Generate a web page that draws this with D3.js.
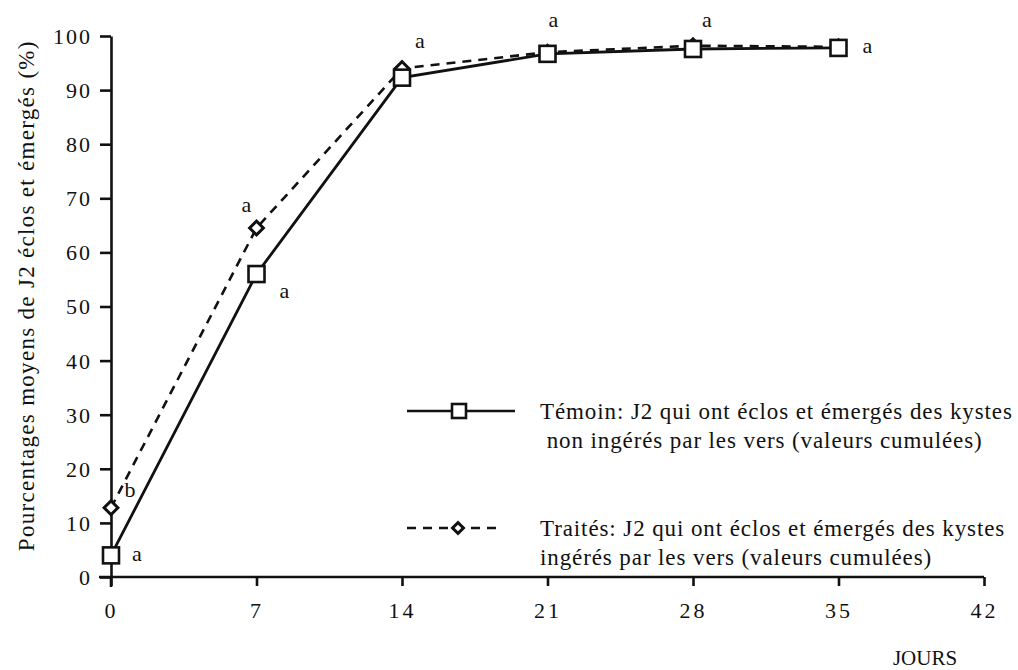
<!DOCTYPE html>
<html>
<head>
<meta charset="utf-8">
<script src="https://cdn.jsdelivr.net/npm/d3@7"></script>
</head>
<body style="margin:0">
<svg id="chart" width="1018" height="670"></svg>
<script>
// data
const days = [0, 7, 14, 21, 28, 35];
const temoin = [4, 56, 92.3, 96.7, 97.6, 97.8];
const traites = [12.8, 64.5, 94, 97, 98.2, 98];
const temoinLetters = ["a", "a", "", "a", "", "a"];
const traitesLetters = ["b", "a", "a", "", "a", ""];
const xTicks = [0, 7, 14, 21, 28, 35, 42];
const yTicks = [0, 10, 20, 30, 40, 50, 60, 70, 80, 90, 100];
const legendLabels = [
  ["Témoin: J2 qui ont éclos et émergés des kystes", " non ingérés par les vers (valeurs cumulées)"],
  ["Traités: J2 qui ont éclos et émergés des kystes", "ingérés par les vers (valeurs cumulées)"]
];

const FONT = "Liberation Serif";
const ink = "#111";

const svg = d3.select("#chart");
const x = d3.scaleLinear().domain([0, 42]).range([111, 984]);
const y = d3.scaleLinear().domain([0, 100]).range([577, 36]);

// axes
const yAxis = svg.append("g")
  .attr("transform", `translate(${x(0)},0)`)
  .call(d3.axisLeft(y).tickValues(yTicks).tickSize(11).tickPadding(8).tickSizeOuter(0));
yAxis.select(".domain").attr("stroke", ink).attr("stroke-width", 2.6);
yAxis.selectAll(".tick line").attr("stroke", ink).attr("stroke-width", 2.6);
yAxis.selectAll(".tick text").attr("font-family", FONT).attr("font-size", 22)
  .attr("fill", ink).attr("dy", "0.34em").attr("letter-spacing", 2);
// y axis runs a bit below 0
svg.append("line").attr("x1", x(0)).attr("x2", x(0)).attr("y1", y(0)).attr("y2", y(0) + 10)
  .attr("stroke", ink).attr("stroke-width", 2.6);

const xAxis = svg.append("g")
  .attr("transform", `translate(0,${y(0)})`)
  .call(d3.axisBottom(x).tickValues(xTicks).tickSize(9).tickPadding(16).tickSizeOuter(0));
xAxis.select(".domain").attr("stroke", ink).attr("stroke-width", 2.6)
  .attr("d", `M${x(0) - 12},0H${x(42)}`);
xAxis.selectAll(".tick line").attr("stroke", ink).attr("stroke-width", 2.6);
xAxis.selectAll(".tick text").attr("font-family", FONT).attr("font-size", 22)
  .attr("fill", ink).attr("letter-spacing", 3);

svg.append("text")
  .attr("transform", `translate(34,${y(52)}) rotate(-90)`)
  .attr("text-anchor", "middle")
  .attr("font-family", FONT).attr("font-size", 23).attr("letter-spacing", 1.3).attr("fill", ink)
  .text("Pourcentages moyens de J2 éclos et émergés (%)");

svg.append("text")
  .attr("x", 925).attr("y", 665)
  .attr("text-anchor", "middle")
  .attr("font-family", FONT).attr("font-size", 21).attr("fill", ink)
  .text("JOURS");

// lines
const line = d3.line().x((d, i) => x(days[i])).y(d => y(d));

svg.append("path").datum(traites)
  .attr("d", line).attr("fill", "none")
  .attr("stroke", ink).attr("stroke-width", 2.6).attr("stroke-dasharray", "9,7");

svg.append("path").datum(temoin)
  .attr("d", line).attr("fill", "none")
  .attr("stroke", ink).attr("stroke-width", 2.8);

// markers
svg.append("g").selectAll("path").data(traites).join("path")
  .attr("transform", (d, i) => `translate(${x(days[i])},${y(d)}) rotate(45)`)
  .attr("d", d3.symbol().type(d3.symbolSquare).size(95)())
  .attr("fill", "#fff").attr("stroke", ink).attr("stroke-width", 3);

svg.append("g").selectAll("rect").data(temoin).join("rect")
  .attr("x", (d, i) => x(days[i]) - 8).attr("y", d => y(d) - 8)
  .attr("width", 16).attr("height", 16)
  .attr("fill", "#fff").attr("stroke", ink).attr("stroke-width", 2.6);

// significance letters (offsets from their point)
const temoinOff = [[26, 6], [28, 24], [0, 0], [6, -27], [0, 0], [29, 5]];
const traitesOff = [[19, -11], [-10, -16], [18, -20], [0, 0], [14, -19], [0, 0]];
svg.append("g").selectAll("text").data(temoin).join("text")
  .attr("x", (d, i) => x(days[i]) + temoinOff[i][0])
  .attr("y", (d, i) => y(d) + temoinOff[i][1])
  .attr("text-anchor", "middle").attr("font-family", FONT).attr("font-size", 22).attr("fill", ink)
  .text((d, i) => temoinLetters[i]);
svg.append("g").selectAll("text").data(traites).join("text")
  .attr("x", (d, i) => x(days[i]) + traitesOff[i][0])
  .attr("y", (d, i) => y(d) + traitesOff[i][1])
  .attr("text-anchor", "middle").attr("font-family", FONT).attr("font-size", 22).attr("fill", ink)
  .text((d, i) => traitesLetters[i]);

// legend
const lg = svg.append("g");
const rows = [{ y: 411, dash: null }, { y: 528, dash: "9,7" }];
rows.forEach((r, k) => {
  lg.append("line").attr("x1", 407).attr("x2", k === 0 ? 515 : 500)
    .attr("y1", r.y).attr("y2", r.y)
    .attr("stroke", ink).attr("stroke-width", 2.6)
    .attr("stroke-dasharray", r.dash);
  if (k === 0) {
    lg.append("rect").attr("x", 452).attr("y", r.y - 7).attr("width", 14).attr("height", 14)
      .attr("fill", "#fff").attr("stroke", ink).attr("stroke-width", 2.6);
  } else {
    lg.append("path").attr("transform", `translate(458,${r.y}) rotate(45)`)
      .attr("d", d3.symbol().type(d3.symbolSquare).size(60)())
      .attr("fill", "#fff").attr("stroke", ink).attr("stroke-width", 3);
  }
  legendLabels[k].forEach((t, j) => {
    lg.append("text").attr("x", 540).attr("y", r.y + 8 + j * 29)
      .attr("font-family", FONT).attr("font-size", 23).attr("letter-spacing", 0.9).attr("fill", ink)
      .attr("xml:space", "preserve")
      .text(t);
  });
});
</script>
</body>
</html>
